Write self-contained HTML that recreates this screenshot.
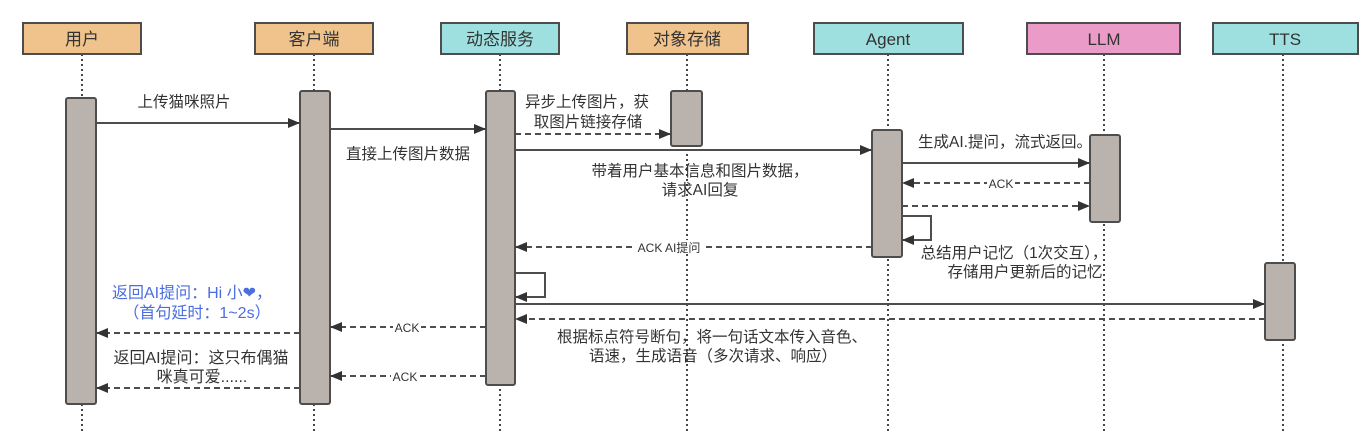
<!DOCTYPE html>
<html><head><meta charset="utf-8"><style>
html,body{margin:0;padding:0;background:#fff;}
svg{display:block;font-family:"Liberation Sans","Noto Sans CJK SC",sans-serif;}
</style></head><body>
<svg width="1368" height="434" viewBox="0 0 1368 434" xmlns="http://www.w3.org/2000/svg">
<defs>
<marker id="a" markerWidth="12" markerHeight="10" refX="11" refY="5" orient="auto" markerUnits="userSpaceOnUse">
<path d="M0,0 L12,5 L0,10 Z" fill="#333"/></marker>
</defs>
<g stroke="#333" stroke-width="1.8" stroke-dasharray="2,3">
<line x1="82" y1="54" x2="82" y2="434"/><line x1="314" y1="54" x2="314" y2="434"/>
<line x1="500" y1="54" x2="500" y2="434"/><line x1="687" y1="54" x2="687" y2="434"/>
<line x1="888" y1="54" x2="888" y2="434"/><line x1="1104" y1="54" x2="1104" y2="434"/>
<line x1="1283" y1="54" x2="1283" y2="434"/>
</g>
<g stroke="#4d4d4d" stroke-width="2">
<rect x="23" y="23" width="118" height="31" fill="#f0c28c"/>
<rect x="255" y="23" width="118" height="31" fill="#f0c28c"/>
<rect x="441" y="23" width="118" height="31" fill="#9ee0e0"/>
<rect x="627" y="23" width="121" height="31" fill="#f0c28c"/>
<rect x="814" y="23" width="149" height="31" fill="#9ee0e0"/>
<rect x="1027" y="23" width="153" height="31" fill="#ea9bc8"/>
<rect x="1213" y="23" width="145" height="31" fill="#9ee0e0"/>
</g>
<g font-size="17" text-anchor="middle" fill="#333">
<text x="82" y="45">用户</text><text x="314" y="45">客户端</text><text x="500" y="45">动态服务</text>
<text x="687" y="45">对象存储</text><text x="888" y="45">Agent</text><text x="1104" y="45">LLM</text><text x="1285" y="45">TTS</text>
</g>
<g fill="#bab2ad" stroke="#4d4d4d" stroke-width="2">
<rect x="66" y="98" width="30" height="306" rx="2"/>
<rect x="300" y="91" width="30" height="313" rx="2"/>
<rect x="486" y="91" width="29" height="294" rx="2"/>
<rect x="671" y="91" width="31" height="55" rx="2"/>
<rect x="872" y="130" width="30" height="127" rx="2"/>
<rect x="1090" y="135" width="30" height="87" rx="2"/>
<rect x="1265" y="263" width="30" height="77" rx="2"/>
</g>
<g stroke="#4d4d4d" stroke-width="2" fill="none">
<line x1="96" y1="123" x2="299" y2="123" marker-end="url(#a)"/>
<line x1="330" y1="129" x2="485" y2="129" marker-end="url(#a)"/>
<line x1="515" y1="134" x2="670" y2="134" stroke-dasharray="6,4" marker-end="url(#a)"/>
<line x1="515" y1="150" x2="871" y2="150" marker-end="url(#a)"/>
<line x1="902" y1="163" x2="1089" y2="163" marker-end="url(#a)"/>
<line x1="1090" y1="183" x2="903" y2="183" stroke-dasharray="6,4" marker-end="url(#a)"/>
<line x1="902" y1="206" x2="1089" y2="206" stroke-dasharray="6,4" marker-end="url(#a)"/>
<polyline points="902,216 931,216 931,240 903,240" marker-end="url(#a)"/>
<line x1="872" y1="247" x2="516" y2="247" stroke-dasharray="6,4" marker-end="url(#a)"/>
<polyline points="515,273 545,273 545,297 516,297" marker-end="url(#a)"/>
<line x1="515" y1="304" x2="1264" y2="304" marker-end="url(#a)"/>
<line x1="1265" y1="319" x2="516" y2="319" stroke-dasharray="6,4" marker-end="url(#a)"/>
<line x1="486" y1="327" x2="331" y2="327" stroke-dasharray="6,4" marker-end="url(#a)"/>
<line x1="300" y1="333" x2="97" y2="333" stroke-dasharray="6,4" marker-end="url(#a)"/>
<line x1="486" y1="376" x2="331" y2="376" stroke-dasharray="6,4" marker-end="url(#a)"/>
<line x1="300" y1="388" x2="97" y2="388" stroke-dasharray="6,4" marker-end="url(#a)"/>
</g>
<g fill="#fff">
<rect x="987" y="176" width="28" height="14"/>
<rect x="634" y="240" width="70" height="14"/>
<rect x="393" y="320" width="28" height="14"/>
<rect x="391" y="369" width="28" height="14"/>
</g>
<g font-size="12" text-anchor="middle" fill="#333">
<text x="1001" y="188">ACK</text><text x="669" y="252">ACK AI提问</text>
<text x="407" y="332">ACK</text><text x="405" y="381">ACK</text>
</g>
<g font-size="15.5" text-anchor="middle" fill="#333">
<text x="184" y="107">上传猫咪照片</text>
<text x="408" y="159">直接上传图片数据</text>
<text x="587" y="107">异步上传图片，获</text><text x="588" y="127">取图片链接存储</text>
<text x="700" y="176">带着用户基本信息和图片数据，</text><text x="700" y="195">请求AI回复</text>
<text x="1005" y="147">生成AI.提问，流式返回。</text>
<text x="1014" y="258">总结用户记忆（1次交互），</text><text x="1025" y="277">存储用户更新后的记忆</text>
<text x="712" y="342">根据标点符号断句，将一句话文本传入音色、</text><text x="713" y="361">语速，生成语音（多次请求、响应）</text>
</g>
<g font-size="16" text-anchor="middle" fill="#333">
<text x="201" y="363">返回AI提问：这只布偶猫</text><text x="202" y="382">咪真可爱......</text>
</g>
<g font-size="16" text-anchor="middle" fill="#4a6ee0">
<text x="192" y="298">返回AI提问：Hi 小❤，</text><text x="197" y="318">（首句延时：1~2s）</text>
</g>
</svg>
</body></html>
